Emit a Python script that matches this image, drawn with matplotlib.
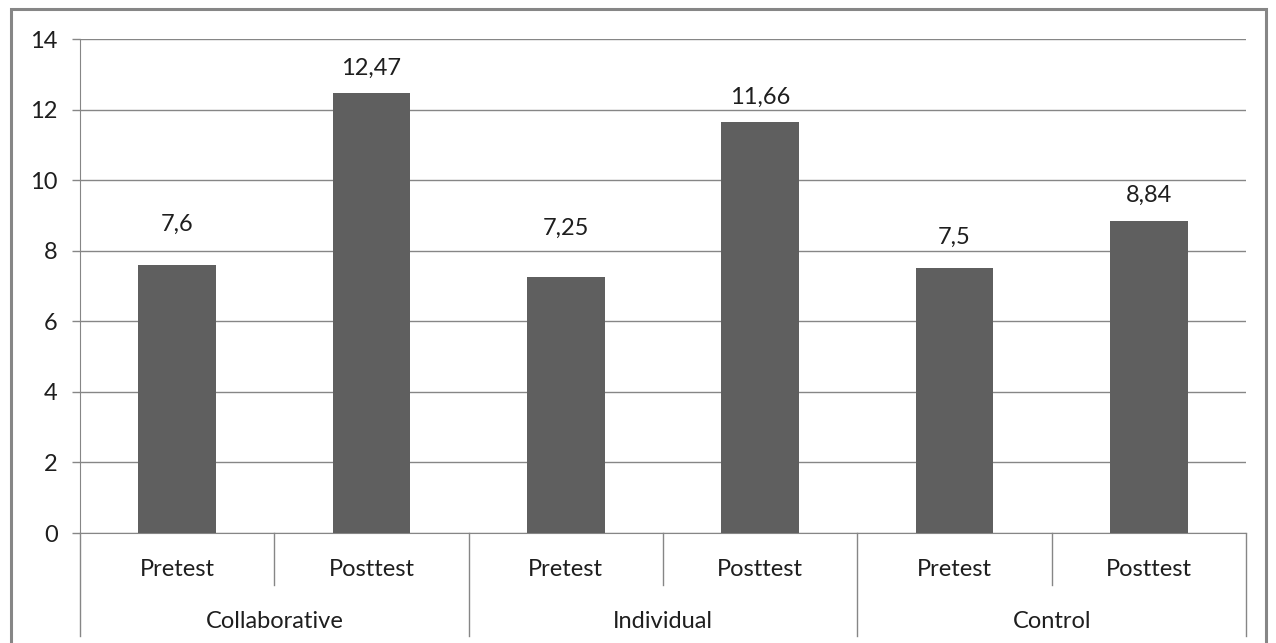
import numpy as np
import matplotlib
matplotlib.use("Agg")
import matplotlib.pyplot as plt
from matplotlib.patches import Rectangle

groups = ["Collaborative", "Individual", "Control"]
tests = ["Pretest", "Posttest"]
scores = [7.6, 12.47, 7.25, 11.66, 7.5, 8.84]
value_labels = ["7,6", "12,47", "7,25", "11,66", "7,5", "8,84"]
yticks = [0, 2, 4, 6, 8, 10, 12, 14]

# distance from bar top to label centre (pixels)
label_offsets = [40, 25, 49, 24, 31, 26]

plt.rcParams['font.family'] = ['Lato', 'DejaVu Sans']
FS = 17
TXT = '#1e1e1e'
W, H = 1276, 643
fig = plt.figure(figsize=(W / 100, H / 100), dpi=100)
fig.patch.set_facecolor('white')

# outer chart border
fig.add_artist(Rectangle((11 / W, -0.05), (1266 - 11) / W, 1.05 - 9 / H,
                         transform=fig.transFigure, fill=False,
                         edgecolor='#868686', linewidth=2.2))

left, right, top, bottom = 80, 1246, 39, 533
ax = fig.add_axes([left / W, 1 - bottom / H, (right - left) / W, (bottom - top) / H])

n = len(scores)
x = np.arange(n)
ax.bar(x, scores, width=0.4, color='#5f5f5f', zorder=3)
ax.set_xlim(-0.5, n - 0.5)
ax.set_ylim(0, 14)

grid_col = '#868686'
ax.set_yticks(yticks)
ax.set_yticklabels([str(v) for v in yticks], fontsize=FS, color=TXT)
ax.tick_params(axis='y', length=6, width=1, color=grid_col, pad=10)
ax.yaxis.grid(True, color=grid_col, linewidth=1, zorder=0)
ax.set_xticks([])
for s in ['top', 'right']:
    ax.spines[s].set_visible(False)
ax.spines['left'].set_color(grid_col)
ax.spines['bottom'].set_color(grid_col)

for xi, v, lab, off in zip(x, scores, value_labels, label_offsets):
    ax.annotate(lab, (xi, v), xytext=(0, off), textcoords='offset pixels',
                ha='center', va='center', fontsize=FS, color=TXT)

# multi-level category axis
trans = ax.get_xaxis_transform()
ph = bottom - top
inner = 52 / ph
outer = 103 / ph
for i in range(n + 1):
    b = i - 0.5
    depth = outer if i % 2 == 0 else inner
    ax.plot([b, b], [0, -depth], transform=trans, color=grid_col,
            linewidth=1, clip_on=False)
for i in range(n):
    ax.text(i, -37 / ph, tests[i % 2], transform=trans, ha='center',
            va='center', fontsize=FS, color=TXT)
for g, name in enumerate(groups):
    ax.text(2 * g + 0.5, -89 / ph, name, transform=trans, ha='center',
            va='center', fontsize=FS, color=TXT)

fig.savefig('out.png', dpi=100)
